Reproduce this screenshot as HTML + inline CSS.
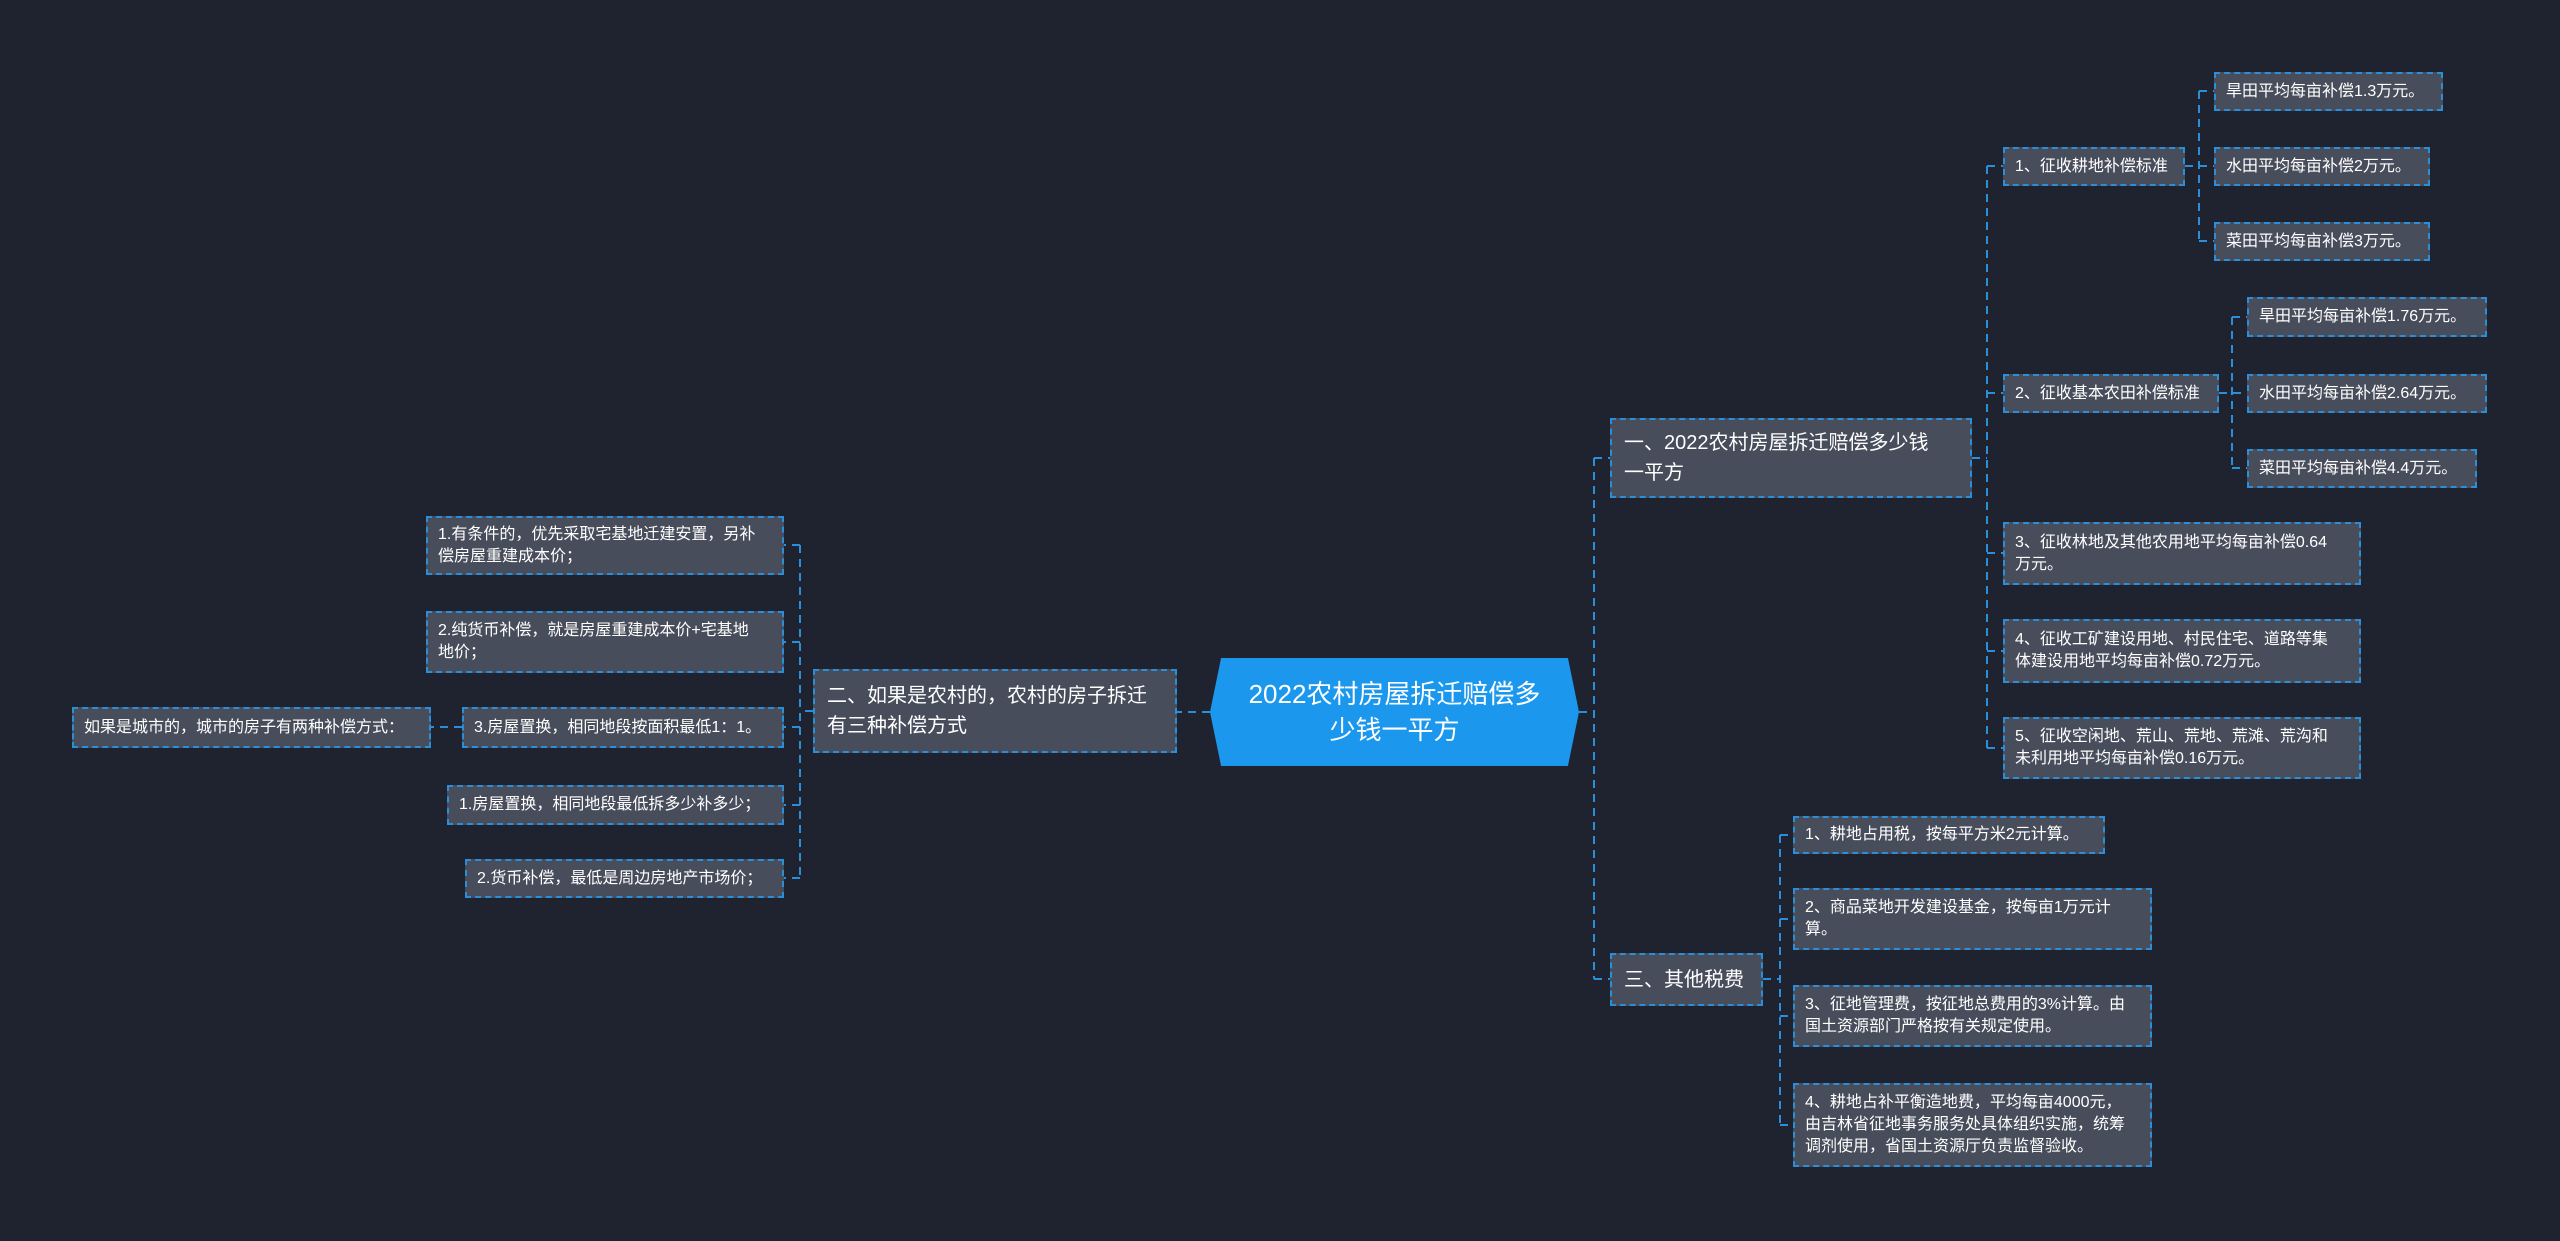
<!DOCTYPE html>
<html><head><meta charset="utf-8"><style>
html,body{margin:0;padding:0;}
body{width:2560px;height:1241px;background:#1f2330;position:relative;overflow:hidden;font-family:"Liberation Sans","Noto Sans CJK SC",sans-serif;color:#fff;}
.n{position:absolute;box-sizing:border-box;background:#474d5b;border:2px dashed #2a8fd8;display:flex;align-items:center;padding:0 24px 0 10px;font-size:16px;line-height:22px;}
.s{white-space:nowrap;padding-right:10px;}
.b{font-size:20px;line-height:30px;padding:0 28px 0 12px;}
svg{position:absolute;left:0;top:0;}
#root{position:absolute;left:1210px;top:658px;width:369px;height:108px;background:#1b98ee;clip-path:polygon(3% 0,97% 0,100% 50%,97% 100%,3% 100%,0 50%);display:flex;align-items:center;justify-content:center;text-align:center;font-size:26px;line-height:36px;padding:0 28px;box-sizing:border-box;}
</style></head><body>
<svg width="2560" height="1241"><g stroke="#2a8fd8" stroke-width="2" stroke-dasharray="8,6" fill="none">
<path d="M1579 712 H1594 M1594 458 V979 M1594 458 H1610 M1594 979 H1610"/>
<path d="M1972 458 H1987 M1987 166 V748 M1987 166 H2003 M1987 393 H2003 M1987 553 H2003 M1987 651 H2003 M1987 748 H2003"/>
<path d="M2185 166 H2214 M2199 91 V241 M2199 91 H2214 M2199 241 H2214"/>
<path d="M2219 393 H2247 M2232 317 V468 M2232 317 H2247 M2232 468 H2247"/>
<path d="M1763 979 H1780 M1780 835 V1125 M1780 835 H1793 M1780 919 H1793 M1780 1016 H1793 M1780 1125 H1793"/>
<path d="M1210 712 H1177 M813 711 H800 M800 545 V878 M800 545 H784 M800 642 H784 M800 727 H784 M800 805 H784 M800 878 H784 M462 727 H431"/>
</g></svg>
<div id="root">2022农村房屋拆迁赔偿多少钱一平方</div>
<div class="n b" style="left:1610px;top:418px;width:362px;height:80px">一、2022农村房屋拆迁赔偿多少钱一平方</div>
<div class="n b s" style="left:1610px;top:953px;width:153px;height:53px">三、其他税费</div>
<div class="n b" style="left:813px;top:669px;width:364px;height:84px">二、如果是农村的，农村的房子拆迁有三种补偿方式</div>
<div class="n s" style="left:2003px;top:147px;width:182px;height:39px">1、征收耕地补偿标准</div>
<div class="n s" style="left:2214px;top:72px;width:229px;height:39px">旱田平均每亩补偿1.3万元。</div>
<div class="n s" style="left:2214px;top:147px;width:216px;height:39px">水田平均每亩补偿2万元。</div>
<div class="n s" style="left:2214px;top:222px;width:216px;height:39px">菜田平均每亩补偿3万元。</div>
<div class="n s" style="left:2003px;top:374px;width:216px;height:39px">2、征收基本农田补偿标准</div>
<div class="n s" style="left:2247px;top:297px;width:240px;height:40px">旱田平均每亩补偿1.76万元。</div>
<div class="n s" style="left:2247px;top:374px;width:240px;height:39px">水田平均每亩补偿2.64万元。</div>
<div class="n s" style="left:2247px;top:449px;width:230px;height:39px">菜田平均每亩补偿4.4万元。</div>
<div class="n" style="left:2003px;top:522px;width:358px;height:63px">3、征收林地及其他农用地平均每亩补偿0.64万元。</div>
<div class="n" style="left:2003px;top:619px;width:358px;height:64px">4、征收工矿建设用地、村民住宅、道路等集体建设用地平均每亩补偿0.72万元。</div>
<div class="n" style="left:2003px;top:717px;width:358px;height:62px">5、征收空闲地、荒山、荒地、荒滩、荒沟和未利用地平均每亩补偿0.16万元。</div>
<div class="n s" style="left:1793px;top:816px;width:312px;height:38px">1、耕地占用税，按每平方米2元计算。</div>
<div class="n" style="left:1793px;top:888px;width:359px;height:62px">2、商品菜地开发建设基金，按每亩1万元计算。</div>
<div class="n" style="left:1793px;top:985px;width:359px;height:62px">3、征地管理费，按征地总费用的3%计算。由国土资源部门严格按有关规定使用。</div>
<div class="n" style="left:1793px;top:1083px;width:359px;height:84px">4、耕地占补平衡造地费，平均每亩4000元，由吉林省征地事务服务处具体组织实施，统筹调剂使用，省国土资源厅负责监督验收。</div>
<div class="n" style="left:426px;top:516px;width:358px;height:59px">1.有条件的，优先采取宅基地迁建安置，另补偿房屋重建成本价；</div>
<div class="n" style="left:426px;top:611px;width:358px;height:62px">2.纯货币补偿，就是房屋重建成本价+宅基地地价；</div>
<div class="n s" style="left:462px;top:707px;width:322px;height:41px">3.房屋置换，相同地段按面积最低1：1。</div>
<div class="n s" style="left:72px;top:707px;width:359px;height:41px">如果是城市的，城市的房子有两种补偿方式：</div>
<div class="n s" style="left:447px;top:785px;width:337px;height:40px">1.房屋置换，相同地段最低拆多少补多少；</div>
<div class="n s" style="left:465px;top:859px;width:319px;height:39px">2.货币补偿，最低是周边房地产市场价；</div>
</body></html>
